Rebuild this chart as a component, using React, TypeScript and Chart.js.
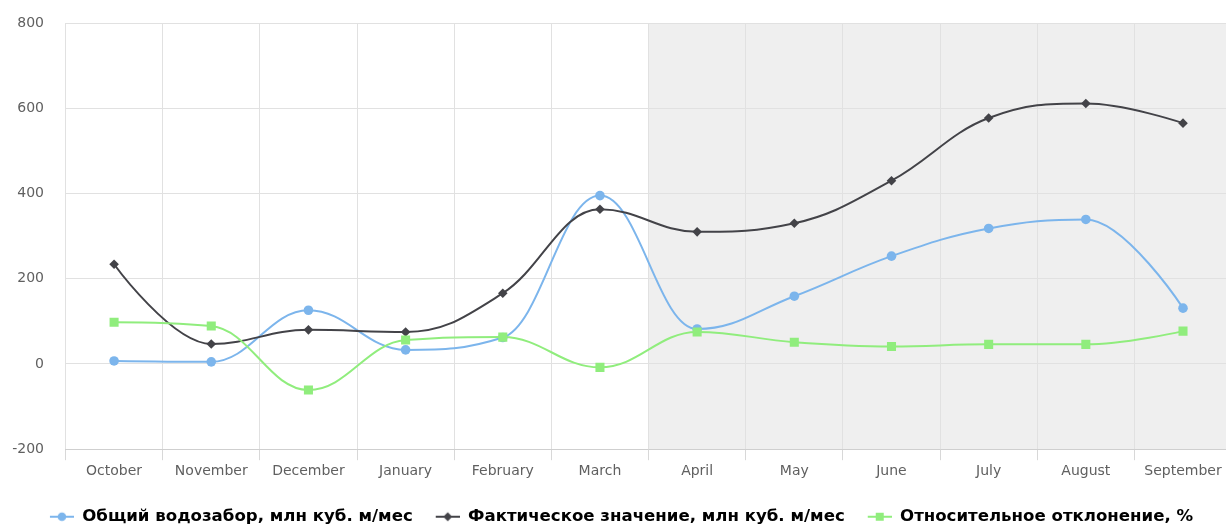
import { useEffect, useRef } from "react";
import { Chart, registerables } from "chart.js";

Chart.register(...registerables);

// Categories (water-year months)
const months = [
  "October", "November", "December", "January", "February", "March",
  "April", "May", "June", "July", "August", "September",
];

// Series values
const totalIntake = [7, 5, 126, 33, 62, 395, 82, 159, 253, 318, 339, 131];
const actualValue = [234, 47, 80, 75, 166, 363, 310, 330, 430, 577, 611, 565];
const relativeDeviation = [98, 89, -61, 56, 63, -8, 75, 51, 41, 46, 46, 77];

// Y axis tick labels
const yTicks = [-200, 0, 200, 400, 600, 800];

// Series names
const seriesNames = [
  "Общий водозабор, млн куб. м/мес",
  "Фактическое значение, млн куб. м/мес",
  "Относительное отклонение, %",
];

// First month of the shaded period (April)
const shadeFromIndex = 6;

const BLUE = "#7cb5ec";
const DARK = "#434348";
const GREEN = "#90ed7d";
const FONT = "'DejaVu Sans', Verdana, sans-serif";

// Legend symbol box: a short line with the marker, preceded by a small gap
const SYMBOL_GAP = 5;
const SYMBOL_LEN = 24;

type MarkerKind = "circle" | "diamond" | "square";

function legendSymbol(color: string, kind: MarkerKind): HTMLCanvasElement {
  const c = document.createElement("canvas");
  c.width = SYMBOL_GAP + SYMBOL_LEN;
  c.height = 12;
  const g = c.getContext("2d")!;
  const x0 = SYMBOL_GAP;
  const cx = x0 + SYMBOL_LEN / 2;
  g.strokeStyle = color;
  g.lineWidth = 2;
  g.beginPath();
  g.moveTo(x0, 6);
  g.lineTo(x0 + SYMBOL_LEN, 6);
  g.stroke();
  g.fillStyle = color;
  g.beginPath();
  if (kind === "circle") {
    g.arc(cx, 6, 4.3, 0, Math.PI * 2);
  } else if (kind === "diamond") {
    g.moveTo(cx, 1.5);
    g.lineTo(cx + 4.5, 6);
    g.lineTo(cx, 10.5);
    g.lineTo(cx - 4.5, 6);
    g.closePath();
  } else {
    g.rect(cx - 4, 2, 8, 8);
  }
  g.fill();
  return c;
}

// Spline control points in the style of a smoothed line with no false extremes
// (smoothing factor 1.5, control points clamped between neighbouring values).
function applySplineControlPoints(points: any[]) {
  const smoothing = 1.5;
  const denom = smoothing + 1;
  for (let i = 0; i < points.length; i++) {
    const p = points[i];
    const prev = points[i - 1];
    const next = points[i + 1];
    if (!prev || !next) {
      p.cp1x = p.x;
      p.cp1y = p.y;
      p.cp2x = p.x;
      p.cp2y = p.y;
      continue;
    }
    const lx = (smoothing * p.x + prev.x) / denom;
    let ly = (smoothing * p.y + prev.y) / denom;
    const rx = (smoothing * p.x + next.x) / denom;
    let ry = (smoothing * p.y + next.y) / denom;
    let correction = 0;
    if (rx !== lx) {
      correction = ((ry - ly) * (rx - p.x)) / (rx - lx) + p.y - ry;
    }
    ly += correction;
    ry += correction;
    if (ly > prev.y && ly > p.y) {
      ly = Math.max(prev.y, p.y);
      ry = 2 * p.y - ly;
    } else if (ly < prev.y && ly < p.y) {
      ly = Math.min(prev.y, p.y);
      ry = 2 * p.y - ly;
    }
    if (ry > next.y && ry > p.y) {
      ry = Math.max(next.y, p.y);
      ly = 2 * p.y - ry;
    } else if (ry < next.y && ry < p.y) {
      ry = Math.min(next.y, p.y);
      ly = 2 * p.y - ry;
    }
    p.cp1x = lx;
    p.cp1y = ly;
    p.cp2x = rx;
    p.cp2y = ry;
  }
}

const splinePlugin = {
  id: "splineCurves",
  beforeDatasetsDraw(chart: any) {
    chart.data.datasets.forEach((_: any, i: number) => {
      const meta = chart.getDatasetMeta(i);
      const line = meta.dataset;
      if (!line) return;
      applySplineControlPoints(meta.data);
      line._pointsUpdated = true;
      line._path = undefined;
    });
  },
};

const shadePlugin = {
  id: "periodShade",
  beforeDraw(chart: any) {
    const { ctx, chartArea, scales } = chart;
    const x = scales.x;
    const half = (x.getPixelForValue(1) - x.getPixelForValue(0)) / 2;
    const left = x.getPixelForValue(shadeFromIndex) - half;
    ctx.save();
    ctx.fillStyle = "#efefef";
    ctx.fillRect(left, chartArea.top, chartArea.right - left, chartArea.bottom - chartArea.top);
    ctx.restore();
  },
};

export default function App() {
  const canvasRef = useRef<HTMLCanvasElement | null>(null);

  useEffect(() => {
    const canvas = canvasRef.current;
    if (!canvas) return;
    const symbols = [
      legendSymbol(BLUE, "circle"),
      legendSymbol(DARK, "diamond"),
      legendSymbol(GREEN, "square"),
    ];
    const colors = [BLUE, DARK, GREEN];

    const chart = new Chart(canvas, {
      type: "line",
      data: {
        labels: months,
        datasets: [
          {
            label: seriesNames[0],
            data: totalIntake,
            borderColor: BLUE,
            backgroundColor: BLUE,
            pointStyle: "circle",
            pointRadius: 4.8,
            order: 3,
          },
          {
            label: seriesNames[1],
            data: actualValue,
            borderColor: DARK,
            backgroundColor: DARK,
            pointStyle: "rectRot",
            pointRadius: 4.8,
            order: 2,
          },
          {
            label: seriesNames[2],
            data: relativeDeviation,
            borderColor: GREEN,
            backgroundColor: GREEN,
            pointStyle: "rect",
            pointRadius: 6.4,
            order: 1,
          },
        ],
      },
      options: {
        responsive: false,
        animation: false,
        events: [],
        layout: { padding: { left: 4, right: 4, top: 23, bottom: -9 } },
        elements: {
          line: { tension: 0.4, borderWidth: 2 },
          point: { borderWidth: 0, hoverRadius: 4.8 },
        },
        scales: {
          x: {
            offset: true,
            afterFit: (scale: any) => {
              scale.height = 41.2;
              scale.paddingLeft = 0;
              scale.paddingRight = 0;
            },
            grid: {
              offset: true,
              color: "#e1e1e1",
              lineWidth: 1,
              drawTicks: true,
              tickLength: 11,
              tickColor: "#d8d8d8",
            },
            border: { display: true, color: "#cfcfcf" },
            ticks: {
              color: "#606060",
              font: { family: FONT, size: 14 },
              padding: 3,
              maxRotation: 0,
              autoSkip: false,
            },
          },
          y: {
            min: -200,
            max: 800,
            afterBuildTicks: (scale: any) => {
              scale.ticks = yTicks.map((v) => ({ value: v }));
            },
            afterFit: (scale: any) => {
              scale.width = 61.5;
              scale.paddingTop = 0;
              scale.paddingBottom = 0;
            },
            grid: { color: "#e1e1e1", drawTicks: false },
            border: { display: false },
            ticks: {
              color: "#606060",
              font: { family: FONT, size: 14 },
              padding: 21.5,
            },
          },
        },
        plugins: {
          tooltip: { enabled: false },
          legend: {
            position: "bottom",
            labels: {
              usePointStyle: true,
              pointStyleWidth: SYMBOL_GAP + SYMBOL_LEN,
              boxHeight: 16.6,
              padding: 18,
              color: "#333333",
              font: { family: FONT, size: 16.6, weight: "bold" },
              generateLabels: () =>
                seriesNames.map((text, i) => ({
                  text,
                  pointStyle: symbols[i],
                  fillStyle: colors[i],
                  strokeStyle: colors[i],
                  lineWidth: 0,
                  hidden: false,
                  datasetIndex: i,
                })),
            },
          },
        },
      },
      plugins: [shadePlugin, splinePlugin],
    });
    return () => chart.destroy();
  }, []);

  return (
    <div
      style={{
        position: "fixed",
        left: 0,
        top: 0,
        width: 1226,
        height: 526,
        overflow: "hidden",
        background: "#ffffff",
      }}
    >
      <canvas ref={canvasRef} width={1238} height={526} style={{ display: "block" }} />
    </div>
  );
}
